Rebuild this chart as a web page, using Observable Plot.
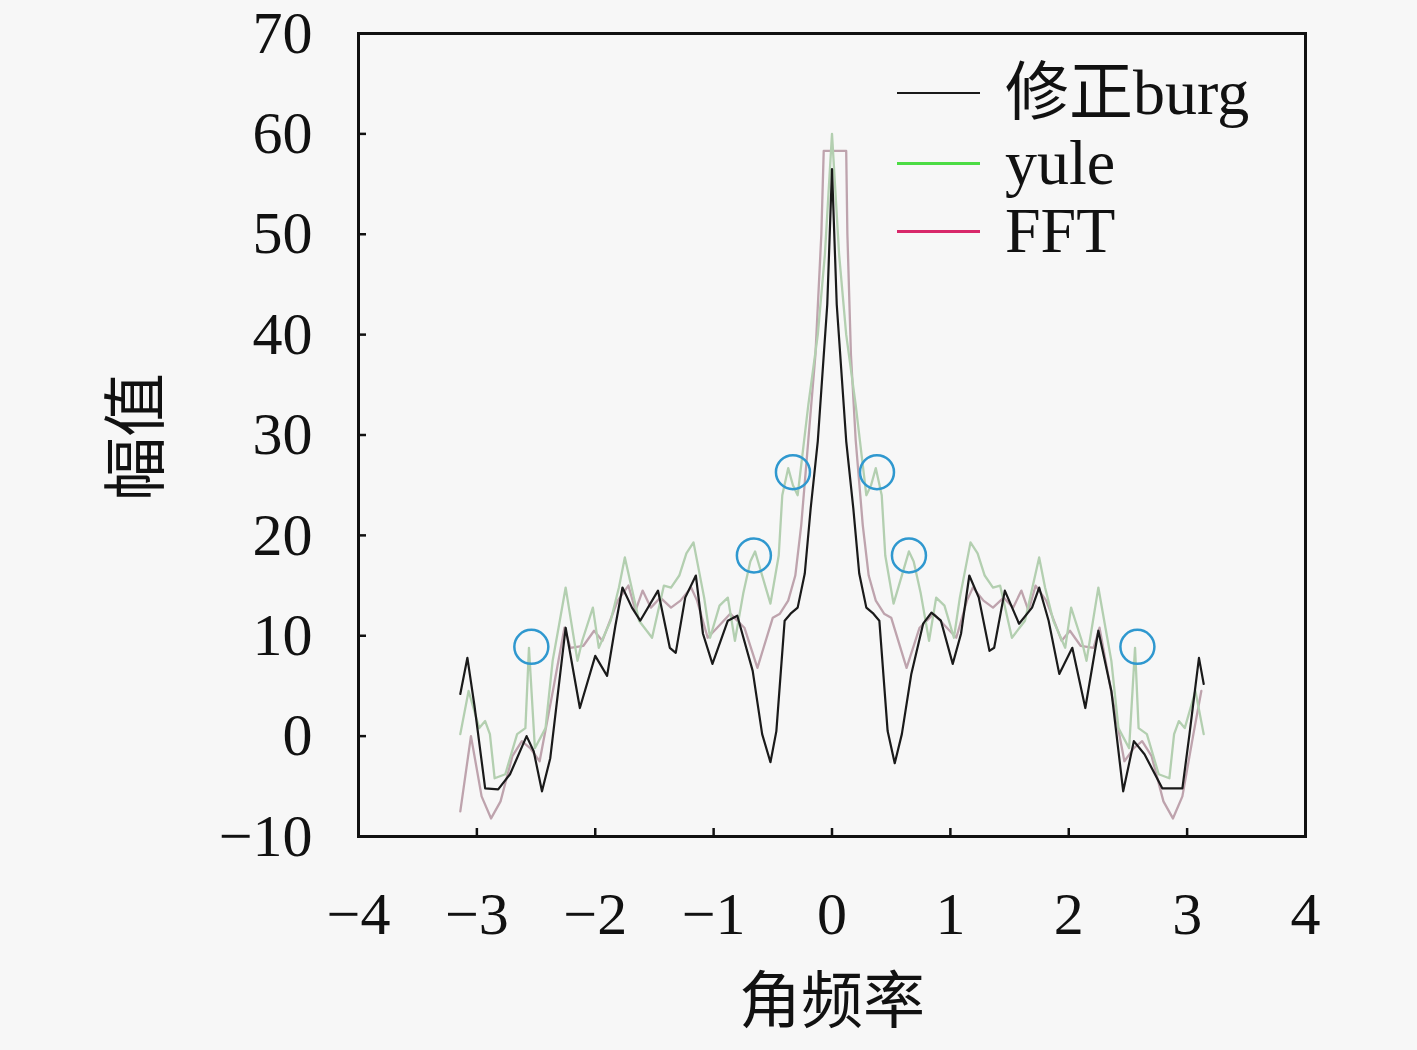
<!DOCTYPE html>
<html>
<head>
<meta charset="utf-8">
<script src="https://cdn.jsdelivr.net/npm/d3@7"></script>
<script src="https://cdn.jsdelivr.net/npm/@observablehq/plot@0.6"></script>
<style>
  html, body { margin: 0; padding: 0; background: #f7f7f7; }
  #wrap { position: relative; width: 1417px; height: 1050px; }
  .leg { position: absolute; left: 897px; height: 60px; display: flex; align-items: center; line-height: 1;
         font-family: "Liberation Serif", "Noto Sans CJK SC", serif; font-size: 64px; color: #111; }
  .leg .sw { width: 83px; height: 0; margin-right: 25px; }
  .ylab { position: absolute; left: 130px; top: 437px; transform: translate(-50%, -50%) rotate(-90deg);
          font-family: "Noto Sans CJK SC", sans-serif; font-size: 64px; color: #111; white-space: nowrap; line-height: 1; }
</style>
</head>
<body>
<div id="wrap"></div>
<script>
// ---- data ----
const xTicks = [-4, -3, -2, -1, 0, 1, 2, 3, 4];
const yTicks = [-10, 0, 10, 20, 30, 40, 50, 60, 70];
const xTitle = "角频率";
const yTitle = "幅值";

const seriesNames = ["修正burg", "yule", "FFT"];
const seriesColors = ["#1a1a1a", "#4cdc44", "#d8286a"];

// 修正burg
const burgX = [-3.14, -3.08, -3.02, -2.93, -2.82, -2.72, -2.58, -2.52, -2.45, -2.38, -2.25, -2.13, -2.0, -1.90, -1.83, -1.77, -1.69, -1.62, -1.47, -1.37, -1.32, -1.24, -1.15, -1.09, -1.01, -0.88, -0.80, -0.67, -0.59, -0.52, -0.47, -0.40, -0.35, -0.29, -0.23, -0.18, -0.12, -0.04, 0,
  0.04, 0.12, 0.18, 0.23, 0.29, 0.35, 0.40, 0.47, 0.53, 0.59, 0.67, 0.77, 0.84, 0.92, 1.02, 1.09, 1.16, 1.24, 1.33, 1.37, 1.46, 1.58, 1.69, 1.75, 1.83, 1.92, 2.03, 2.14, 2.25, 2.36, 2.46, 2.55, 2.64, 2.79, 2.96, 3.02, 3.10, 3.14];
const burgY = [4.2, 7.8, 3.0, -5.2, -5.3, -3.8, 0.0, -1.5, -5.5, -2.2, 10.8, 2.8, 8.0, 6.0, 11.0, 14.8, 12.8, 11.5, 14.5, 8.8, 8.3, 13.8, 16.0, 10.2, 7.2, 11.5, 12.0, 6.5, 0.2, -2.6, 0.5, 11.5, 12.2, 12.8, 16.2, 22.7, 29.4, 43.0, 56.5,
  43.0, 29.4, 22.7, 16.2, 12.8, 12.2, 11.5, 0.5, -2.7, 0.2, 6.2, 11.2, 12.3, 11.5, 7.2, 10.2, 16.0, 13.8, 8.5, 8.8, 14.5, 11.2, 12.8, 14.8, 11.5, 6.2, 8.8, 2.8, 10.5, 4.5, -5.5, -0.5, -1.8, -5.2, -5.2, 0.2, 7.8, 5.2];

// yule
const yuleX = [-3.14, -3.07, -2.98, -2.93, -2.89, -2.85, -2.76, -2.66, -2.59, -2.56, -2.51, -2.42, -2.36, -2.31, -2.25, -2.15, -2.11, -2.02, -1.97, -1.87, -1.80, -1.75, -1.63, -1.52, -1.42, -1.36, -1.29, -1.23, -1.17, -1.08, -1.03, -0.95, -0.88, -0.82, -0.75, -0.69, -0.65, -0.56, -0.52, -0.45, -0.42, -0.37, -0.33, -0.29, -0.20, -0.12, -0.06, 0,
  0.06, 0.12, 0.20, 0.29, 0.33, 0.37, 0.42, 0.45, 0.52, 0.56, 0.65, 0.69, 0.75, 0.82, 0.88, 0.95, 1.03, 1.08, 1.17, 1.23, 1.29, 1.36, 1.42, 1.52, 1.63, 1.75, 1.80, 1.87, 1.97, 2.02, 2.11, 2.15, 2.25, 2.31, 2.36, 2.42, 2.51, 2.56, 2.59, 2.66, 2.76, 2.85, 2.89, 2.93, 2.98, 3.07, 3.14];
const yuleY = [0.2, 4.5, 0.8, 1.5, 0.2, -4.2, -3.8, 0.2, 0.8, 8.8, -1.2, 0.8, 7.5, 10.8, 14.8, 7.5, 9.5, 12.8, 8.8, 11.5, 14.8, 17.8, 11.5, 9.8, 15.0, 14.8, 16.0, 18.2, 19.3, 13.8, 9.8, 13.0, 13.8, 9.5, 14.2, 17.4, 18.4, 14.8, 13.2, 18.0, 24.0, 26.7, 25.0, 24.0, 33.0, 40.0, 48.0, 60.0,
  48.0, 40.0, 33.0, 24.0, 25.0, 26.7, 24.0, 18.0, 13.2, 14.8, 18.4, 17.4, 14.2, 9.5, 13.8, 13.0, 9.8, 13.8, 19.3, 18.2, 16.0, 14.8, 15.0, 9.8, 11.5, 17.8, 14.8, 11.5, 8.8, 12.8, 9.5, 7.5, 14.8, 10.8, 7.5, 0.8, -1.2, 8.8, 0.8, 0.2, -3.8, -4.2, 0.2, 1.5, 0.8, 4.5, 0.2];

// FFT
const fftX = [-3.14, -3.05, -2.96, -2.88, -2.80, -2.70, -2.62, -2.55, -2.47, -2.35, -2.26, -2.21, -2.10, -2.01, -1.94, -1.81, -1.72, -1.66, -1.60, -1.53, -1.45, -1.36, -1.28, -1.19, -1.14, -1.05, -0.97, -0.86, -0.74, -0.63, -0.50, -0.44, -0.37, -0.31, -0.26, -0.20, -0.14, -0.09, -0.07,
  0.12, 0.13, 0.16, 0.20, 0.26, 0.31, 0.37, 0.44, 0.50, 0.63, 0.74, 0.86, 0.97, 1.05, 1.14, 1.19, 1.28, 1.36, 1.45, 1.53, 1.60, 1.66, 1.72, 1.81, 1.94, 2.01, 2.10, 2.21, 2.26, 2.35, 2.47, 2.55, 2.62, 2.70, 2.80, 2.88, 2.96, 3.05, 3.12];
const fftY = [-7.5, 0.0, -6.0, -8.2, -6.5, -2.0, -0.5, -1.2, -2.5, 5.0, 10.8, 8.8, 9.0, 10.5, 9.5, 13.5, 15.0, 12.5, 14.5, 12.8, 13.8, 12.8, 13.5, 14.8, 13.5, 9.8, 10.8, 12.2, 10.8, 6.8, 11.8, 12.2, 13.5, 16.0, 21.0, 29.5, 38.0, 50.0, 58.3,
  58.3, 50.0, 38.0, 29.5, 21.0, 16.0, 13.5, 12.2, 11.8, 6.8, 10.8, 12.2, 10.8, 9.8, 13.5, 14.8, 13.5, 12.8, 13.8, 12.8, 14.5, 12.5, 15.0, 13.5, 9.5, 10.5, 9.0, 8.8, 10.8, 5.0, -2.5, -1.2, -0.5, -2.0, -6.5, -8.2, -6.0, 0.0, 4.5];

// circled yule peaks
const markX = [-2.54, -0.66, -0.33, 0.38, 0.65, 2.58];
const markY = [8.9, 18.0, 26.3, 26.3, 18.0, 8.9];

// ---- build tables ----
const burg = burgX.map((x, i) => ({x, y: burgY[i]}));
const yule = yuleX.map((x, i) => ({x, y: yuleY[i]}));
const fft = fftX.map((x, i) => ({x, y: fftY[i]}));
const marks = markX.map((x, i) => ({x, y: markY[i]}));

const serif = "'Liberation Serif', 'Noto Sans CJK SC', serif";
const cjk = "'Noto Sans CJK SC', sans-serif";

const chart = Plot.plot({
  width: 1417,
  height: 1050,
  marginLeft: 358,
  marginRight: 112,
  marginTop: 33,
  marginBottom: 214,
  x: {domain: [-4, 4]},
  y: {domain: [-10, 70]},
  style: {background: "transparent", fontFamily: serif, color: "#111"},
  marks: [
    Plot.line(fft, {x: "x", y: "y", stroke: "#bea3ad", strokeWidth: 2.3}),
    Plot.line(yule, {x: "x", y: "y", stroke: "#b3cfb0", strokeWidth: 2.3}),
    Plot.line(burg, {x: "x", y: "y", stroke: seriesColors[0], strokeWidth: 2.2}),
    Plot.dot(marks, {x: "x", y: "y", r: 17, stroke: "#2f98cf", strokeWidth: 2.5, fill: "none"}),
    Plot.axisX({ticks: xTicks, tickSize: -8, text: null, label: null, strokeWidth: 2.5}),
    Plot.axisX({ticks: xTicks, tickSize: 0, tickPadding: 55, fontSize: 60, label: null}),
    Plot.axisY({ticks: yTicks, tickSize: -8, text: null, label: null, strokeWidth: 2.5}),
    Plot.axisY({ticks: yTicks, tickSize: 0, tickPadding: 46, fontSize: 60, label: null}),
    Plot.frame({stroke: "#111", strokeWidth: 3}),
    Plot.text([xTitle], {frameAnchor: "bottom", dy: 186, fontSize: 62, fontFamily: cjk, fill: "#111"})
  ]
});

const wrap = document.getElementById("wrap");
wrap.appendChild(chart);

const yl = document.createElement("div");
yl.className = "ylab";
yl.textContent = yTitle;
wrap.appendChild(yl);

// legend (inside the plot area, upper right)
const legTops = [93, 163, 231];
seriesNames.forEach((name, i) => {
  const row = document.createElement("div");
  row.className = "leg";
  row.style.top = (legTops[i] - 30) + "px";
  const sw = document.createElement("span");
  sw.className = "sw";
  sw.style.borderTop = `${i === 0 ? 2 : 3}px solid ${seriesColors[i]}`;
  const tx = document.createElement("span");
  tx.textContent = name;
  row.appendChild(sw);
  row.appendChild(tx);
  wrap.appendChild(row);
});
</script>
</body>
</html>
